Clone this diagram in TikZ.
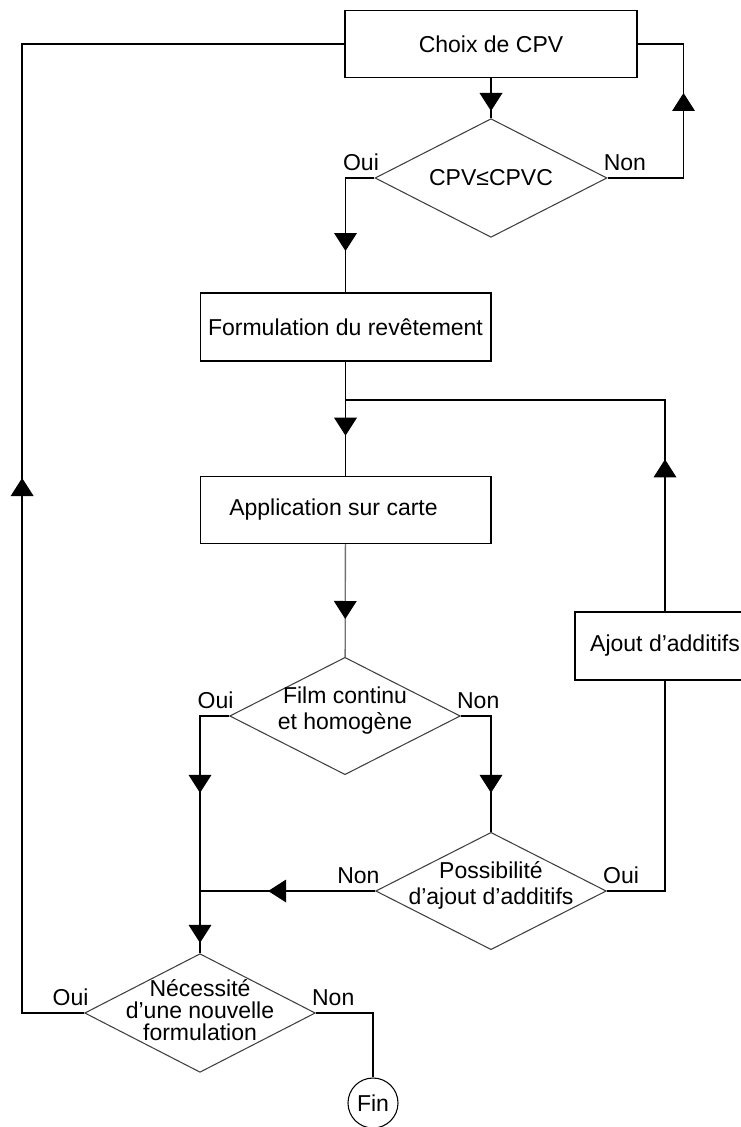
\documentclass[tikz,border=0pt]{standalone}
\usepackage{fontspec}
\setmainfont{Liberation Sans}
\usetikzlibrary{shapes.geometric,arrows.meta,decorations.markings}

\begin{document}
\begin{tikzpicture}[
    x=0.75pt, y=-0.75pt,
    every node/.style={font=\fontsize{17.25}{19.5}\selectfont},
    box/.style={rectangle, draw, line width=1pt, minimum width=218pt, minimum height=50pt, align=center, inner sep=0pt},
    decision/.style={diamond, draw=black!75, line width=0.8pt, minimum width=173pt, minimum height=88pt, inner sep=0pt},
    dtext/.style={align=center, inner sep=0pt},
    line/.style={line width=1pt},
    midarrow/.style={postaction={decorate, decoration={markings, mark=at position #1 with {\arrow[black]{Triangle[length=13.5pt,width=17pt]}}}}},
    lblL/.style={anchor=south east, inner sep=0pt, xshift=3.5pt, yshift=5pt},
    lblR/.style={anchor=south west, inner sep=0pt, xshift=-3pt, yshift=5pt}
]
    \useasboundingbox (0,0) rectangle (740,1127);

    % Boxes and tests
    \node[box, minimum width=219pt] (choix) at (491,44) {Choix de CPV};
    \node[decision, minimum width=174pt, minimum height=89pt, label={[dtext]center:CPV≤CPVC}] (q1) at (491,178) {};
    \node[box, minimum height=51pt] (form) at (345.5,327) {Formulation du revêtement};
    \node[box] (app) at (345.5,510) {\hspace*{-18pt}Application sur carte};
    \node[decision, label={[dtext, yshift=4pt]center:Film continu\\et homogène}] (q2) at (345,716) {};
    \node[decision, label={[dtext, yshift=4pt]center:Possibilité\\d’ajout d’additifs}] (q3) at (491,891) {};
    \node[box, minimum width=135pt, minimum height=51pt] (ajout) at (665,646) {Ajout d’additifs};
    \node[decision, minimum height=89pt, label={[dtext, yshift=2pt, font=\fontsize{17.25}{16.5}\selectfont]center:Nécessité\\d’une nouvelle\\formulation}] (nec) at (200,1013) {};
    \node[circle, draw, line width=0.8pt, minimum size=37.5pt, inner sep=0pt] (fin) at (373,1103) {Fin};
    \coordinate (jn) at (345.5,400);

    % Oui / Non
    \node[lblL] (q1oui) at (q1.west) {Oui};
    \node[lblR] (q1non) at (q1.east) {Non};
    \node[lblL] (q2oui) at (q2.west) {Oui};
    \node[lblR] (q2non) at (q2.east) {Non};
    \node[lblL] (q3non) at (q3.west) {Non};
    \node[lblR] (q3oui) at (q3.east) {Oui};
    \node[lblL] (necoui) at (nec.west) {Oui};
    \node[lblR] (necnon) at (nec.east) {Non};

    % Arrows
    \draw[line, midarrow=24.75pt] (choix) -- (q1);
    \draw[line, midarrow=120.75pt] (q1.east) -- ++(76,0) |- (choix.east);
    \draw[line, midarrow=76.5pt] (q1.west) -| (form.north);
    \draw[line, midarrow=55.5pt] (form) -- (app);
    \draw[line, midarrow=114pt] (ajout.north) |- (jn);
    \draw[line, draw=black!55, midarrow=56.25pt] (app) -- (q2);
    \draw[line, midarrow=79.5pt, midarrow=192pt] (q2.west) -| (nec.north);
    \draw[line, midarrow=80.25pt] (q2.east) -| (q3.north);
    \draw[line, midarrow=80.25pt] (q3.west) -- (q3.west -| nec.north);
    \draw[line] (q3.east) -| (ajout.south);
    \draw[line, midarrow=447.75pt] (nec.west) -- ++(-62,0) |- (choix.west);
    \draw[line] (nec.east) -| (fin.north);
\end{tikzpicture}
\end{document}
